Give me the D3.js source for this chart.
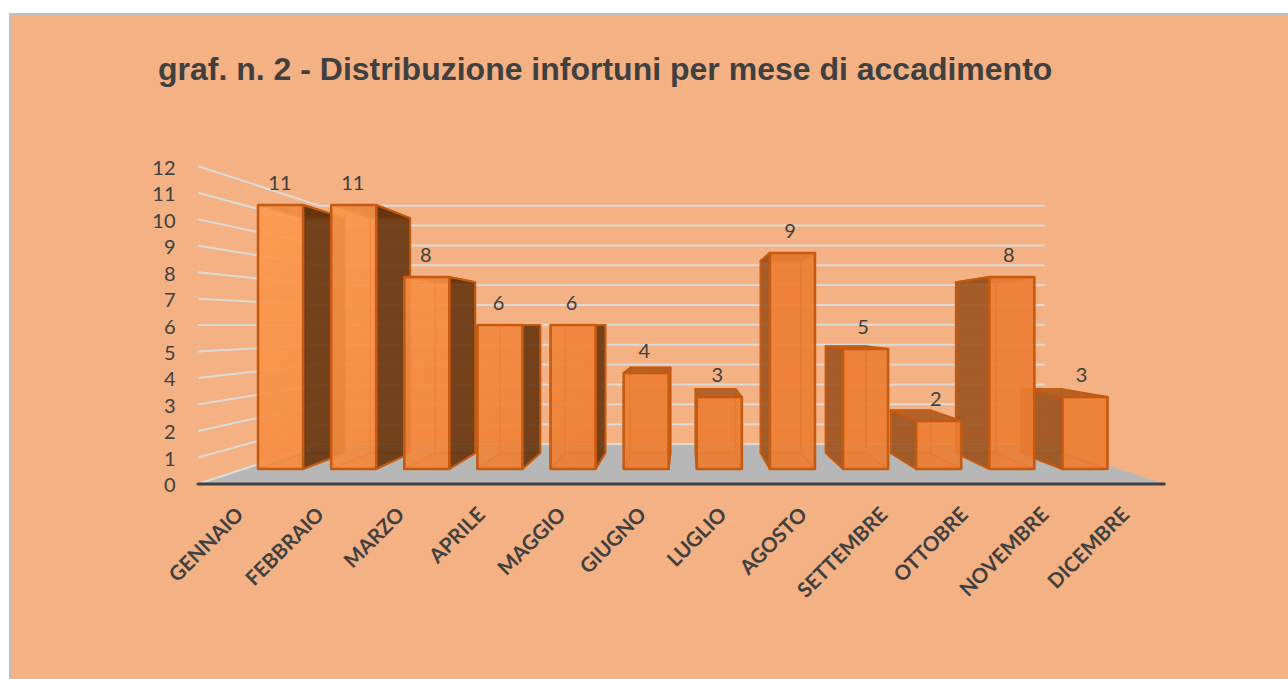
<!DOCTYPE html>
<html>
<head>
<meta charset="utf-8">
<script src="https://cdn.jsdelivr.net/npm/d3@7"></script>
<style>
html,body{margin:0;padding:0;background:#fff;overflow:hidden}
svg{display:block}
</style>
</head>
<body>
<svg id="c" width="1288" height="679"></svg>
<script>
const chartTitle = "graf. n. 2 - Distribuzione infortuni per mese di accadimento";
const months = ["GENNAIO","FEBBRAIO","MARZO","APRILE","MAGGIO","GIUGNO","LUGLIO","AGOSTO","SETTEMBRE","OTTOBRE","NOVEMBRE","DICEMBRE"];
const values = [11,11,8,6,6,4,3,9,5,2,8,3];
const yTicks = [0,1,2,3,4,5,6,7,8,9,10,11,12];

// perspective camera
const VP = {x:685, y:324};
const DEPTH = {axis:1.103, barFront:1, barBack:0.89, wall:0.8276};

const svg = d3.select("#c");
const defs = svg.append("defs");
const grad = defs.append("linearGradient").attr("id","front").attr("gradientUnits","userSpaceOnUse")
  .attr("x1",250).attr("y1",200).attr("x2",560).attr("y2",480);
grad.append("stop").attr("offset","0%").attr("stop-color","#FF9B50");
grad.append("stop").attr("offset","100%").attr("stop-color","#ED7D31");

svg.append("rect").attr("x",10).attr("y",14).attr("width",1300).attr("height",700)
  .attr("fill","#F4B183").attr("stroke","#BFBFBF").attr("stroke-width",2);

svg.append("text").attr("x",158).attr("y",80).text(chartTitle)
  .attr("font-family","'Liberation Sans',Arial,sans-serif").attr("font-weight","bold")
  .attr("font-size",32).attr("fill","#404040");

// world scales (at the depth of the bar fronts)
const x = d3.scaleBand().domain(months).range([244,1121.5]).paddingInner(0.384).paddingOuter(0.192);
const y = d3.scaleLinear().domain([0,12]).range([469,181]);
const px = (wx,s)=>VP.x+s*(wx-VP.x);
const py = (v,s)=>VP.y+s*(y(v)-VP.y);
const P = (wx,v,s)=>[px(wx,s),py(v,s)];
const poly = d3.line();

const wx0 = 243.5, wx1 = 1119.5;

// floor
svg.append("path")
  .attr("d",poly([P(wx0,0,DEPTH.axis),P(wx1,0,DEPTH.axis),P(wx1,0,DEPTH.wall),P(wx0,0,DEPTH.wall)])+"Z")
  .attr("fill","#B7B7B7");

// gridlines: side wall + back wall
svg.append("g").selectAll("path").data(yTicks).join("path")
  .attr("d",v=>poly([P(wx0,v,DEPTH.axis),P(wx0,v,DEPTH.wall),P(wx1,v,DEPTH.wall)]))
  .attr("fill","none").attr("stroke","#DDD9D6").attr("stroke-width",2);

// axis baseline
svg.append("path")
  .attr("d",poly([P(wx0,0,DEPTH.axis),P(wx1,0,DEPTH.axis)]))
  .attr("stroke","#404040").attr("stroke-width",3).attr("stroke-linecap","round");

// y axis
const yAxisScale = d3.scaleLinear().domain([0,12]).range([py(0,DEPTH.axis),py(12,DEPTH.axis)]);
const gy = svg.append("g").attr("transform",`translate(${px(wx0,DEPTH.axis)-22.5},1.5)`)
  .call(d3.axisLeft(yAxisScale).tickValues(yTicks).tickSize(0).tickFormat(d3.format("d")));
gy.select(".domain").remove();
gy.selectAll("text").attr("font-family","Lato,sans-serif").attr("font-size",20).attr("fill","#404040").attr("x",0);

// x axis
const xAxisScale = d3.scaleBand().domain(months)
  .range([px(wx0,DEPTH.axis),px(wx1,DEPTH.axis)]).paddingInner(x.paddingInner()).paddingOuter(x.paddingOuter());
const gx = svg.append("g").attr("transform",`translate(0,${py(0,DEPTH.axis)})`)
  .call(d3.axisBottom(xAxisScale).tickSize(0));
gx.select(".domain").remove();
gx.selectAll("text").attr("font-family","Lato,sans-serif").attr("font-weight",700)
  .attr("font-size",20.5).attr("fill","#404040").attr("text-anchor","end")
  .attr("x",0).attr("y",0).attr("dy",0)
  .attr("transform","translate(6.5,32) rotate(-45)");

// bars: farthest from vanishing point first
const bars = months.map((m,i)=>({m,v:values[i],l:x(m),r:x(m)+x.bandwidth()}));
const centre = d=>(d.l+d.r)/2;
bars.sort((a,b)=>Math.abs(centre(b)-VP.x)-Math.abs(centre(a)-VP.x));

const EDGE = "#C55A11";
const gBars = svg.append("g").attr("stroke-linejoin","round");
function face(g,pts,fill,op,sw,so){
  g.append("path").attr("d",poly(pts)+"Z").attr("fill",fill).attr("fill-opacity",op)
    .attr("stroke",EDGE).attr("stroke-width",sw).attr("stroke-opacity",so);
}
bars.forEach(d=>{
  const g = gBars.append("g");
  const F=DEPTH.barFront,B=DEPTH.barBack;
  const leftOfVP = centre(d)<VP.x;
  const visX = leftOfVP?d.r:d.l, hidX = leftOfVP?d.l:d.r;
  const sideFill = leftOfVP?"#63330F":"#9A5220";
  // back, bottom, hidden side
  face(g,[P(d.l,0,B),P(d.r,0,B),P(d.r,d.v,B),P(d.l,d.v,B)],"#ED7D31",0.25,1.5,0.55);
  face(g,[P(d.l,0,F),P(d.r,0,F),P(d.r,0,B),P(d.l,0,B)],"#ED7D31",0.45,1.5,0.6);
  face(g,[P(hidX,0,F),P(hidX,0,B),P(hidX,d.v,B),P(hidX,d.v,F)],"#ED7D31",0.2,1.5,0.55);
  // top: seen from below when above the vanishing point
  const topFill = y(d.v)<VP.y-10 ? sideFill : "#A85A22";
  face(g,[P(d.l,d.v,F),P(d.r,d.v,F),P(d.r,d.v,B),P(d.l,d.v,B)],topFill,0.88,2,1);
  // visible side
  face(g,[P(visX,0,F),P(visX,0,B),P(visX,d.v,B),P(visX,d.v,F)],sideFill,0.88,2,1);
  // front
  face(g,[P(d.l,0,F),P(d.r,0,F),P(d.r,d.v,F),P(d.l,d.v,F)],"url(#front)",0.88,2.6,1);
});

// value labels
const labelX = d3.scaleBand().domain(months).range([243.5,1118]).paddingInner(x.paddingInner()).paddingOuter(x.paddingOuter());
svg.append("g").selectAll("text").data(bars).join("text")
  .attr("x",d=>labelX(d.m)+labelX.bandwidth()/2).attr("y",d=>y(d.v)-15).attr("text-anchor","middle")
  .attr("font-family","Lato,sans-serif").attr("font-size",20).attr("fill","#404040")
  .text(d=>d.v);
</script>
</body>
</html>
